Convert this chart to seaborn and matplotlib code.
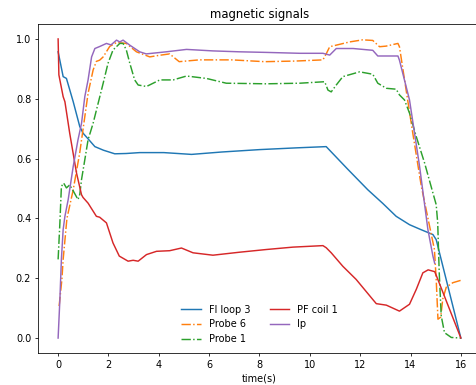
import matplotlib
matplotlib.use("Agg")
import matplotlib.pyplot as plt
import seaborn as sns
import pandas as pd

# ---- data ----
fl_t = [0, 0.2, 0.33, 0.6, 0.86, 0.99, 1.2, 1.46, 1.8, 2.25, 2.7, 3.24, 4.2, 5.3, 6.5, 8.0, 9.5, 10.65,
        11.5, 12.3, 12.9, 13.43, 13.96, 14.4, 14.89, 15.02, 16.0]
fl_v = [0.957, 0.874, 0.868, 0.79, 0.707, 0.685, 0.665, 0.64, 0.628, 0.616, 0.617, 0.62, 0.62, 0.614, 0.622,
        0.63, 0.636, 0.64, 0.565, 0.496, 0.45, 0.407, 0.379, 0.363, 0.346, 0.329, 0.0]

pf_t = [0, 0.03, 0.2, 0.27, 0.46, 0.73, 0.93, 0.99, 1.19, 1.52, 1.65, 1.92, 2.18, 2.43, 2.78, 2.98, 3.18,
        3.51, 3.91, 4.43, 4.9, 5.36, 6.15, 7.21, 8.27, 9.33, 10.52, 10.65, 10.85, 11.31, 11.84, 12.5,
        12.64, 13.04, 13.56, 13.96, 14.23, 14.49, 14.7, 14.96, 15.02, 16.0]
pf_v = [1.0, 0.88, 0.807, 0.79, 0.685, 0.552, 0.479, 0.47, 0.451, 0.407, 0.404, 0.385, 0.318, 0.274, 0.257,
        0.26, 0.257, 0.279, 0.29, 0.292, 0.301, 0.285, 0.277, 0.287, 0.296, 0.304, 0.309, 0.302, 0.285,
        0.24, 0.196, 0.129, 0.115, 0.11, 0.09, 0.113, 0.163, 0.218, 0.228, 0.222, 0.21, 0.0]

p6_t = [0.04, 0.15, 0.2, 0.35, 0.6, 0.86, 1.06, 1.19, 1.39, 1.52, 1.65, 1.79, 2.05, 2.32, 2.71, 3.11, 3.64,
        4.0, 4.43, 4.81, 5.6, 6.9, 8.2, 9.4, 10.52, 10.65, 10.79, 11.58, 12.1, 12.5, 12.77, 13.03, 13.5,
        13.56, 14.09, 14.43, 14.76, 14.95, 15.02, 15.09, 15.2, 15.28, 15.42, 15.68, 16.0]
p6_v = [0.107, 0.196, 0.263, 0.4, 0.496, 0.62, 0.74, 0.818, 0.896, 0.925, 0.929, 0.94, 0.975, 0.988, 0.985,
        0.957, 0.94, 0.945, 0.95, 0.924, 0.93, 0.93, 0.924, 0.926, 0.93, 0.95, 0.974, 0.99, 0.997, 0.995,
        0.974, 0.976, 0.985, 0.974, 0.685, 0.507, 0.373, 0.296, 0.196, 0.063, 0.07, 0.13, 0.17, 0.185, 0.193]

p1_t = [0, 0.07, 0.13, 0.22, 0.33, 0.46, 0.6, 0.79, 0.86, 0.93, 1.06, 1.19, 1.39, 1.59, 1.79, 1.98, 2.18,
        2.45, 2.58, 2.71, 2.85, 3.04, 3.18, 3.51, 4.04, 4.57, 5.1, 5.89, 6.68, 8.27, 9.6, 10.59, 10.72,
        10.85, 11.05, 11.31, 11.98, 12.5, 12.7, 13.04, 13.43, 13.56, 13.76, 13.96, 14.23, 14.56, 14.89,
        15.02, 15.08, 15.14, 15.22, 15.35, 15.62, 16.0]
p1_v = [0.263, 0.385, 0.507, 0.518, 0.502, 0.512, 0.492, 0.463, 0.48, 0.53, 0.596, 0.663, 0.718, 0.785,
        0.852, 0.918, 0.963, 0.985, 0.985, 0.963, 0.918, 0.863, 0.846, 0.841, 0.863, 0.863, 0.876, 0.868,
        0.852, 0.85, 0.852, 0.857, 0.829, 0.823, 0.846, 0.874, 0.89, 0.882, 0.852, 0.835, 0.832, 0.813,
        0.796, 0.752, 0.673, 0.585, 0.485, 0.446, 0.385, 0.22, 0.074, 0.018, 0.002, 0.0]

ip_t = [0, 0.07, 0.13, 0.2, 0.27, 0.4, 0.6, 0.79, 0.93, 1.06, 1.19, 1.33, 1.46, 1.66, 1.92, 2.1, 2.32, 2.45,
        2.58, 2.85, 3.24, 3.5, 4.3, 5.1, 6.15, 7.2, 8.27, 9.6, 10.52, 10.79, 11.05, 11.72, 12.5, 12.7,
        13.5, 13.56, 13.96, 14.36, 14.69, 14.89, 14.96]
ip_v = [0.0, 0.129, 0.263, 0.363, 0.407, 0.463, 0.574, 0.663, 0.718, 0.807, 0.863, 0.94, 0.968, 0.975,
        0.985, 0.98, 0.996, 0.99, 0.996, 0.979, 0.957, 0.95, 0.957, 0.965, 0.96, 0.957, 0.955, 0.952, 0.952,
        0.946, 0.968, 0.968, 0.962, 0.943, 0.943, 0.929, 0.796, 0.574, 0.363, 0.274, 0.25]

series = [
    ("Fl loop 3", fl_t, fl_v, "#1f77b4", "-"),
    ("Probe 6", p6_t, p6_v, "#ff7f0e", "-."),
    ("Probe 1", p1_t, p1_v, "#2ca02c", "-."),
    ("PF coil 1", pf_t, pf_v, "#d62728", "-"),
    ("Ip", ip_t, ip_v, "#9467bd", "-"),
]

plt.rcParams["font.family"] = ["DejaVu Sans"]
fig = plt.figure(figsize=(6.8, 5.5), dpi=70)
ax = fig.add_axes([0.0798, 0.0831, 0.9307, 0.8546])

for name, t, v, col, ls in series:
    df = pd.DataFrame({"t": t, "v": v})
    sns.lineplot(data=df, x="t", y="v", ax=ax, color=col, linestyle=ls,
                 linewidth=1.5, label=name, sort=False, estimator=None)

ax.set_xlim(-0.8, 16.8)
ax.set_ylim(-0.05, 1.05)
ax.set_xticks([0, 2, 4, 6, 8, 10, 12, 14, 16])
ax.set_yticks([0.0, 0.2, 0.4, 0.6, 0.8, 1.0])
ax.set_xlabel("time(s)")
ax.set_ylabel("")
ax.set_title("magnetic signals")
ax.legend(loc="lower center", ncol=2, frameon=False)

fig.savefig("out.png", dpi=70)
